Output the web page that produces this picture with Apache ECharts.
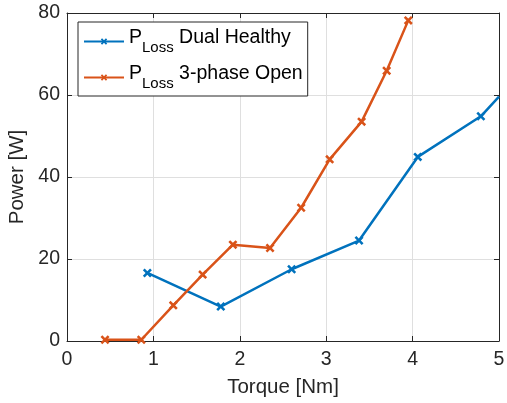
<!DOCTYPE html>
<html><head><meta charset="utf-8">
<script src="https://cdn.jsdelivr.net/npm/echarts@6/dist/echarts.min.js"></script>
<style>html,body{margin:0;padding:0;background:#fff}#c{width:507px;height:403px}</style>
</head><body><div id="c"></div>
<script>
const torqueDual = [0.93, 1.78, 2.60, 3.38, 4.06, 4.79, 5.0];
const powerDual  = [16.6, 8.4, 17.5, 24.5, 44.9, 54.8, 59.6];
const torqueOpen = [0.44, 0.86, 1.23, 1.57, 1.92, 2.35, 2.71, 3.04, 3.41, 3.70, 3.95];
const powerOpen  = [0.3, 0.3, 8.7, 16.2, 23.5, 22.7, 32.5, 44.3, 53.5, 65.9, 78.2];
const xTicks = [0, 1, 2, 3, 4, 5];
const yTicks = [0, 20, 40, 60, 80];
const seriesNames = ['Dual Healthy', '3-phase Open'];
const colors = ['#0072BD', '#D95319'];

const X_SYM = 'path://M0,2 L2,0 L5,3 L8,0 L10,2 L7,5 L10,8 L8,10 L5,7 L2,10 L0,8 L3,5 Z';
const FONT = 'Liberation Sans, Arial, Helvetica, sans-serif';
const AX = '#262626';

function pts(xs, ys, clipLast) {
  return xs.map((x, i) => {
    const item = { value: [x, ys[i]] };
    if (clipLast && i === xs.length - 1) item.symbol = 'none';
    return item;
  });
}

function axis(pos, ticks, isMain, extra) {
  return Object.assign({
    type: 'value', position: pos,
    min: ticks[0], max: ticks[ticks.length - 1], interval: ticks[1] - ticks[0],
    axisLine: { show: true, onZero: false, lineStyle: { color: AX, width: 1 } },
    axisTick: { show: true, inside: true, length: 5, lineStyle: { color: AX } },
    axisLabel: { show: isMain, fontSize: 19.5, color: AX, fontFamily: FONT },
    splitLine: { show: isMain, lineStyle: { color: '#dfdfdf', width: 1 } }
  }, extra || {});
}

const chart = echarts.init(document.getElementById('c'), null, { renderer: 'canvas' });
chart.setOption({
  animation: false,
  backgroundColor: '#fff',
  textStyle: { fontFamily: FONT },
  grid: { left: 67, right: 8, top: 13, bottom: 62, containLabel: false, outerBoundsMode: 'none' },
  xAxis: [
    axis('bottom', xTicks, true, {
      name: 'Torque [Nm]', nameLocation: 'middle', nameGap: 36,
      nameTextStyle: { fontSize: 20.5, color: AX, fontFamily: FONT },
      axisLabel: { show: true, fontSize: 19.5, color: AX, fontFamily: FONT, margin: 9 }
    }),
    axis('top', xTicks, false)
  ],
  yAxis: [
    axis('left', yTicks, true, {
      name: 'Power [W]', nameLocation: 'middle', nameGap: 33,
      nameTextStyle: { fontSize: 20.5, color: AX, fontFamily: FONT },
      axisLabel: { show: true, fontSize: 19.5, color: AX, fontFamily: FONT, margin: 7 }
    }),
    axis('right', yTicks, false)
  ],
  legend: {
    orient: 'vertical', left: 78, top: 22,
    backgroundColor: '#fff', borderColor: '#262626', borderWidth: 1, borderRadius: 0,
    padding: [6, 5, 5, 5], itemGap: 9, itemWidth: 40, itemHeight: 8,
    data: seriesNames.map(n => ({ name: n })),
    formatter: n => '{p|P}{s|Loss}{t| ' + n + '}',
    textStyle: {
      color: '#000', fontFamily: FONT,
      rich: {
        p: { fontSize: 19.5, fontFamily: FONT, color: '#000', verticalAlign: 'top' },
        s: { fontSize: 15, fontFamily: FONT, color: '#000', verticalAlign: 'top', padding: [12, 0, 0, 0] },
        t: { fontSize: 19.5, fontFamily: FONT, color: '#000', verticalAlign: 'top' }
      }
    }
  },
  series: [
    {
      name: seriesNames[0], type: 'line', xAxisIndex: 0, yAxisIndex: 0,
      data: pts(torqueDual, powerDual, true),
      symbol: X_SYM, symbolSize: 9, showAllSymbol: true,
      lineStyle: { color: colors[0], width: 2.5 },
      itemStyle: { color: colors[0] }, clip: true
    },
    {
      name: seriesNames[1], type: 'line', xAxisIndex: 0, yAxisIndex: 0,
      data: pts(torqueOpen, powerOpen, false),
      symbol: X_SYM, symbolSize: 9, showAllSymbol: true,
      lineStyle: { color: colors[1], width: 2.5 },
      itemStyle: { color: colors[1] }, clip: true
    }
  ]
});
</script></body></html>
